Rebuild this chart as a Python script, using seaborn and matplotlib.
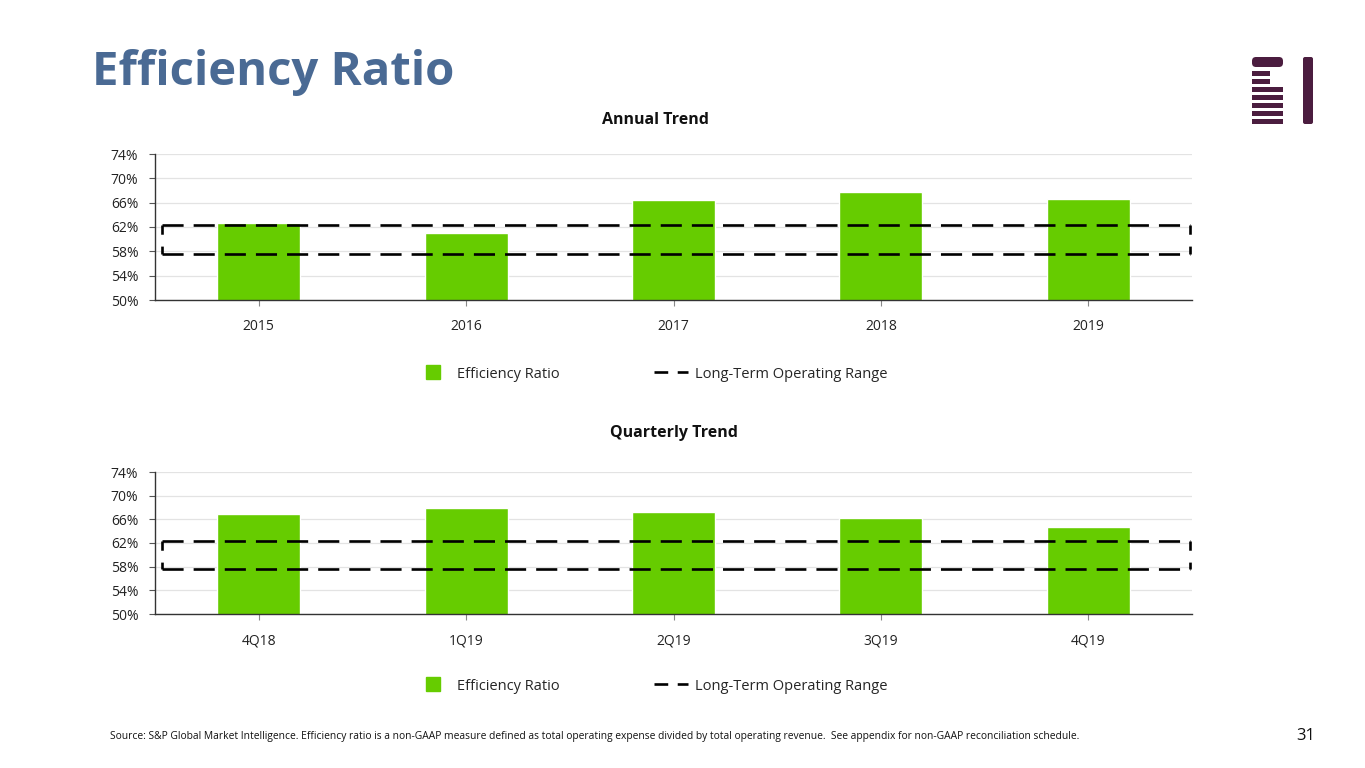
import matplotlib
matplotlib.use("Agg")
import matplotlib.pyplot as plt
import seaborn as sns
import pandas as pd
from matplotlib.lines import Line2D
from matplotlib.patches import Rectangle, FancyBboxPatch

# ---- data ----
annual_years = ["2015", "2016", "2017", "2018", "2019"]
annual_ratio = [62.7, 61.0, 66.4, 67.8, 66.6]
quarter_labels = ["4Q18", "1Q19", "2Q19", "3Q19", "4Q19"]
quarter_ratio = [66.9, 67.9, 67.2, 66.3, 64.7]
range_low = 57.6
range_high = 62.3
y_ticks = [50, 54, 58, 62, 66, 70, 74]
y_tick_labels = ["50%", "54%", "58%", "62%", "66%", "70%", "74%"]

GREEN = "#66CC00"
TITLE_BLUE = "#4A6A94"
LOGO = "#4B1D3F"
FONT = ["Open Sans", "DejaVu Sans"]

sns.set_theme(style="white")
plt.rcParams["font.family"] = FONT

fig = plt.figure(figsize=(13.65, 7.68), dpi=100)
W, H = 1365, 768


def fx(px):
    return px / W


def fy(py):
    return 1 - py / H


def draw_panel(top_px, bottom_px, cats, vals):
    ax = fig.add_axes([fx(155), fy(bottom_px), fx(1192) - fx(155), fy(top_px) - fy(bottom_px)])
    df = pd.DataFrame({"cat": cats, "val": vals})
    sns.barplot(data=df, x="cat", y="val", color=GREEN, width=0.4, saturation=1,
                ax=ax, zorder=2)
    ax.set_xlim(-0.5, len(cats) - 0.5)
    ax.set_ylim(50, 74)
    ax.set_yticks(y_ticks)
    ax.set_yticklabels(y_tick_labels)
    ax.set_xlabel("")
    ax.set_ylabel("")
    ax.grid(axis="y", color="#E3E3E3", linewidth=0.9, zorder=0)
    ax.set_axisbelow(True)
    for s in ["top", "right"]:
        ax.spines[s].set_visible(False)
    for s in ["left", "bottom"]:
        ax.spines[s].set_color("#333333")
        ax.spines[s].set_linewidth(1.0)
    ax.tick_params(axis="y", which="both", left=True, length=4, width=0.8,
                   color="#555555", labelsize=10, labelcolor="#222222", pad=8)
    ax.tick_params(axis="x", which="both", bottom=True, length=4, width=0.8,
                   color="#888888", labelsize=10, labelcolor="#222222", pad=10)
    # Long-term operating range box (each side dashed from its corners)
    x0, x1 = -0.466, len(cats) - 0.51
    kw = dict(color="black", linewidth=1.9, zorder=3, dash_capstyle="butt")
    ax.plot([x0, x1], [range_high, range_high], linestyle=(0, (8, 3.8)), **kw)
    ax.plot([x0, x1], [range_low, range_low], linestyle=(0, (8, 3.8)), **kw)
    ax.plot([x0, x0], [range_high, range_low], linestyle=(0, (3.5, 4.5)), **kw)
    ax.plot([x1, x1], [range_high, range_low], linestyle=(0, (3.5, 4.5)), **kw)
    return ax


ax1 = draw_panel(154, 300, annual_years, annual_ratio)
ax2 = draw_panel(472, 614, quarter_labels, quarter_ratio)

# Legends
handles = [
    Line2D([], [], marker="s", markersize=10, color=GREEN, linestyle="none"),
    Line2D([], [], color="black", linewidth=1.9, linestyle=(0, (5.2, 3.6))),
]
labels = ["Efficiency Ratio", "Long-Term Operating Range"]
for ypx in (374, 686):
    fig.legend(handles, labels, loc="center", bbox_to_anchor=(fx(652), fy(ypx)),
               ncol=2, frameon=False, handlelength=2.3,
               handletextpad=0.5, columnspacing=6.5, prop={"family": FONT, "size": 10.5})

# Titles
fig.text(fx(92), fy(73), "Efficiency Ratio", fontsize=34, fontweight="bold",
         color=TITLE_BLUE, ha="left", va="center")
fig.text(fx(655), fy(120), "Annual Trend", fontsize=11.5, fontweight="bold",
         color="#111111", ha="center", va="center")
fig.text(fx(674), fy(433), "Quarterly Trend", fontsize=11.5, fontweight="bold",
         color="#111111", ha="center", va="center")

# Footer
fig.text(fx(110), fy(737),
         "Source: S&P Global Market Intelligence. Efficiency ratio is a non-GAAP measure defined as total "
         "operating expense divided by total operating revenue.  See appendix for non-GAAP reconciliation schedule.",
         fontsize=7.35, color="#111111", ha="left", va="center")
fig.text(fx(1306), fy(736), "31", fontsize=12, color="#111111", ha="center", va="center")

# Logo
logo_ax = fig.add_axes([0, 0, 1, 1], zorder=-1)
logo_ax.set_xlim(0, W)
logo_ax.set_ylim(H, 0)
logo_ax.axis("off")
logo_ax.add_patch(FancyBboxPatch((1252, 57), 31, 10, boxstyle="round,pad=0,rounding_size=4",
                                 facecolor=LOGO, edgecolor="none"))
for i, yy in enumerate([70.5, 78.5, 86.5, 94.5, 102.5, 110.5, 118.5]):
    w = 18 if i < 2 else 31
    logo_ax.add_patch(Rectangle((1252, yy), w, 5, facecolor=LOGO, edgecolor="none"))
logo_ax.add_patch(FancyBboxPatch((1303, 57), 10, 67, boxstyle="round,pad=0,rounding_size=2",
                                 facecolor=LOGO, edgecolor="none"))

fig.savefig("out.png", dpi=100)
